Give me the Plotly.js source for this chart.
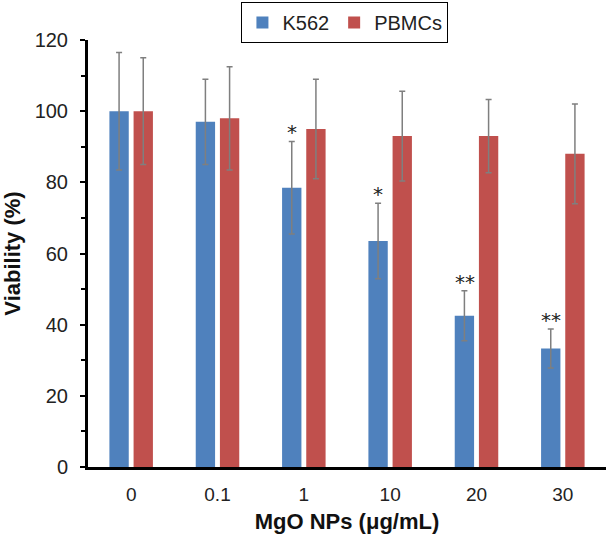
<!DOCTYPE html>
<html>
<head>
<meta charset="utf-8">
<script src="https://cdn.plot.ly/plotly-3.0.1.min.js"></script>
<style>
  body { margin: 0; background: white; }
  #grafico { width: 606px; height: 540px; }
</style>
</head>
<body>
<div id="grafico"></div>
<script>
// Datos
const concentraciones = ['0', '0.1', '1', '10', '20', '30'];
const viabilidadK562 = [100, 97, 78.5, 63.5, 42.5, 33.3];
const errorK562 = [16.5, 12, 13, 10.6, 7, 5.5];
const viabilidadPBMC = [100, 98, 95, 93, 93, 88];
const errorPBMC = [15, 14.5, 14, 12.6, 10.3, 14];
const significancia = ['', '', '*', '*', '**', '**'];

// Estilo de barras de error
const estiloError = (valores) => ({
    type: 'data',
    array: valores,
    visible: true,
    color: '#7f7f7f',
    thickness: 1.5,
    width: 3
});

const trazaK562 = {
    x: concentraciones,
    y: viabilidadK562,
    type: 'bar',
    name: 'K562',
    marker: { color: '#4F81BD' },
    error_y: estiloError(errorK562)
};

const trazaPBMC = {
    x: concentraciones,
    y: viabilidadPBMC,
    type: 'bar',
    name: 'PBMCs',
    marker: { color: '#C0504D' },
    error_y: estiloError(errorPBMC)
};

// Asteriscos sobre las barras K562 (x por índice de categoría)
const anotaciones = [];
concentraciones.forEach((c, i) => {
    if (significancia[i]) {
        anotaciones.push({
            x: i,
            y: viabilidadK562[i] + errorK562[i],
            xref: 'x',
            yref: 'y',
            text: significancia[i],
            showarrow: false,
            xshift: -12,
            yanchor: 'bottom',
            yshift: -5,
            font: { family: 'DejaVu Sans', size: 20, color: '#222' }
        });
    }
});

const layout = {
    width: 606,
    height: 540,
    margin: { l: 88, r: 0, t: 40, b: 73 },
    plot_bgcolor: 'white',
    paper_bgcolor: 'white',
    barmode: 'group',
    bargap: 0.44,
    bargroupgap: 0.2,
    font: { family: 'Liberation Sans, Arial', color: '#222' },
    showlegend: true,
    legend: {
        orientation: 'h',
        x: 0.496,
        xanchor: 'center',
        y: 1.089,
        yanchor: 'top',
        bordercolor: '#000',
        borderwidth: 1,
        font: { size: 20, color: '#222' },
        itemwidth: 30
    },
    xaxis: {
        type: 'category',
        range: [-0.5, 5.5],
        title: { text: 'MgO NPs (μg/mL)', font: { size: 22, color: '#111', weight: 'bold' }, standoff: 10 },
        tickfont: { size: 19 },
        ticklabelstandoff: 8,
        showline: true,
        linecolor: '#000',
        linewidth: 3,
        ticks: '',
        showgrid: false,
        zeroline: false
    },
    yaxis: {
        title: { text: 'Viability (%)', font: { size: 22, color: '#111', weight: 'bold' }, standoff: 10 },
        range: [0, 120],
        dtick: 20,
        tickfont: { size: 20 },
        ticklabelstandoff: 8,
        showline: true,
        linecolor: '#000',
        linewidth: 3,
        ticks: 'outside',
        ticklen: 5,
        tickwidth: 2,
        tickcolor: '#000',
        minor: { dtick: 10, ticks: 'outside', ticklen: 4, tickwidth: 2, tickcolor: '#000' },
        showgrid: false,
        zeroline: false
    },
    annotations: anotaciones
};

Plotly.newPlot('grafico', [trazaK562, trazaPBMC], layout, { displayModeBar: false });
</script>
</body>
</html>
